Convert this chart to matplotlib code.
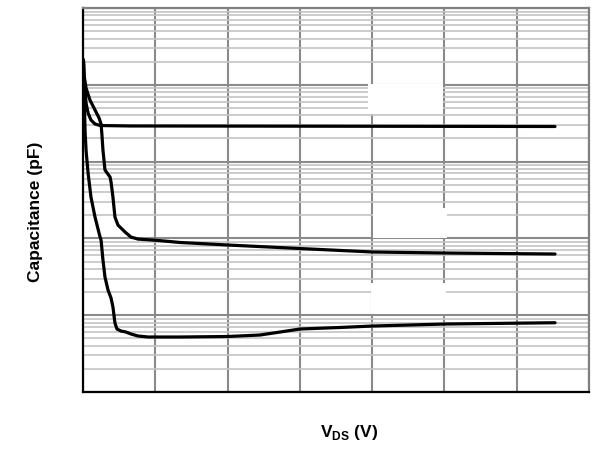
import numpy as np
import matplotlib
matplotlib.use("Agg")
import matplotlib.pyplot as plt
from matplotlib.patches import Rectangle
from matplotlib.ticker import LogLocator, MultipleLocator, NullFormatter

# ------------------------------
# Данные (V, пФ)
# ------------------------------
ciss_v = [0.03, 0.07, 0.14, 0.21, 0.35, 0.55, 0.83, 1.18, 3.25, 32.65]
ciss_c = [21040, 13420, 8560, 5800, 4300, 3480, 3090, 2950, 2910, 2865]

coss_v = [0.03, 0.07, 0.21, 0.48, 0.83, 1.11, 1.25, 1.31, 1.38, 1.52, 1.87, 1.94,
          2.07, 2.21, 2.42, 2.91, 3.32, 3.80, 5.19, 6.71, 10.03, 15.01, 20.06,
          25.11, 32.65]
coss_c = [21040, 13420, 9080, 6340, 4700, 3700, 3090, 2220, 1415, 778, 630, 542,
          346, 190, 149, 121, 104, 98, 94, 88.5, 82, 73.8, 66.5, 64.5, 62.6]

crss_v = [0.03, 0.07, 0.14, 0.21, 0.35, 0.55, 0.83, 1.18, 1.25, 1.38, 1.52, 1.73,
          1.94, 2.07, 2.21, 2.35, 2.63, 2.97, 3.32, 3.80, 4.50, 6.71, 10.03, 12.24,
          13.63, 15.01, 17.78, 20.06, 25.11, 32.65]
crss_c = [21040, 8560, 2580, 1415, 711, 346, 190, 104, 95, 52.4, 31.4, 21.3,
          16.7, 12.8, 7.91, 6.61, 6.22, 6.04, 5.69, 5.36, 5.20, 5.20, 5.28, 5.52,
          6.04, 6.61, 6.92, 7.23, 7.68, 7.98]

x_max = 35
x_step = 5
y_min, y_max = 1, 1e5

# ------------------------------
# Рисунок
# ------------------------------
plt.rcParams['font.family'] = ['Liberation Sans', 'DejaVu Sans']
plt.rcParams['mathtext.fontset'] = 'custom'
plt.rcParams['mathtext.rm'] = 'Liberation Sans'
plt.rcParams['mathtext.bf'] = 'Liberation Sans:bold'

fig = plt.figure(figsize=(5.91, 4.65), dpi=100)
ax = fig.add_axes([83 / 591, 73 / 465, 506 / 591, 384 / 465])

ax.set_xlim(0, x_max)
ax.set_yscale('log')
ax.set_ylim(y_min, y_max)

ax.xaxis.set_major_locator(MultipleLocator(x_step))
ax.yaxis.set_major_locator(LogLocator(base=10, numticks=10))
ax.yaxis.set_minor_locator(LogLocator(base=10, subs=np.arange(2, 10), numticks=100))
ax.xaxis.set_major_formatter(NullFormatter())
ax.yaxis.set_major_formatter(NullFormatter())
ax.yaxis.set_minor_formatter(NullFormatter())
ax.tick_params(which='both', length=0)

ax.set_axisbelow(True)
ax.grid(True, which='major', axis='both', color='#8a8a8a', lw=1.5)
ax.grid(True, which='minor', axis='y', color='#c4c4c4', lw=1.2)

for s in ['left', 'bottom']:
    ax.spines[s].set_color('black')
    ax.spines[s].set_linewidth(1.6)
for s in ['top', 'right']:
    ax.spines[s].set_color('#808080')
    ax.spines[s].set_linewidth(1.6)

# белые заплатки (на месте подписей кривых)
for (x0, y0, w, h) in [(0.563, 0.724, 0.148, 0.078),
                       (0.573, 0.401, 0.146, 0.078),
                       (0.569, 0.203, 0.148, 0.081)]:
    ax.add_patch(Rectangle((x0, y0), w, h, transform=ax.transAxes,
                           facecolor='white', edgecolor='none', zorder=1))

for v, c in [(ciss_v, ciss_c), (coss_v, coss_c), (crss_v, crss_c)]:
    ax.plot(v, c, color='black', lw=2.3, solid_capstyle='round', zorder=3)

fig.text(36 / 591, 1 - 212 / 465, 'Capacitance (pF)', rotation=90,
         ha='center', va='center', fontsize=12.5, fontweight='bold')
fig.text(349 / 591, 1 - 432 / 465, r'V$_{\mathbf{DS}}$ (V)',
         ha='center', va='center', fontsize=12.5, fontweight='bold')

fig.savefig('out.png', dpi=100)
